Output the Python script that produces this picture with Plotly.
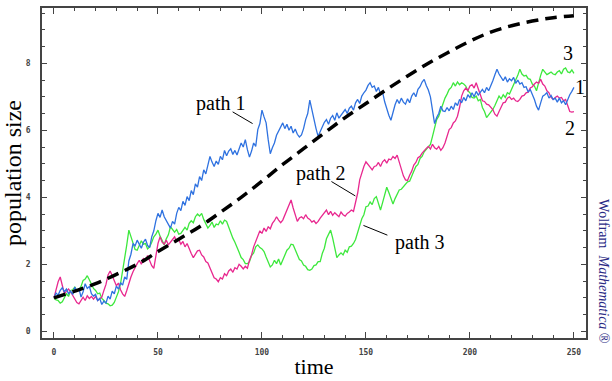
import plotly.graph_objects as go

# time grid for the simulated paths (one step per time unit)
time = list(range(0, 251))

path1 = [
    1.00, 1.14, 1.08, 1.22, 1.30, 1.18, 1.26, 1.12, 1.20, 1.10,
    1.32, 1.20, 1.28, 1.02, 1.18, 1.42, 1.28, 1.34, 1.12, 1.05,
    1.10, 0.92, 0.98, 0.80, 0.90, 0.84, 1.05, 0.96, 1.20, 1.12,
    1.35, 1.26, 1.45, 1.38, 1.62, 1.55, 2.10, 2.30, 2.62, 2.55,
    2.72, 2.58, 2.48, 2.66, 2.75, 2.56, 2.50, 2.82, 3.00, 3.30,
    3.52, 3.40, 3.62, 3.42, 3.30, 3.16, 3.08, 3.28, 3.20, 3.52,
    3.70, 3.60, 3.88, 3.76, 4.02, 3.90, 4.20, 4.08, 4.40, 4.30,
    4.62, 4.50, 4.82, 4.70, 4.98, 5.22, 5.05, 4.92, 5.08, 4.98,
    5.22, 5.12, 5.40, 5.24, 5.38, 5.45, 5.28, 5.40, 5.26, 5.48,
    5.62, 5.50, 5.72, 5.42, 5.20, 5.38, 5.62, 5.52, 6.02, 6.20,
    6.60, 6.40, 6.22, 5.72, 5.30, 5.48, 5.62, 5.85, 5.98, 6.14,
    6.22, 6.05, 6.18, 6.00, 6.12, 5.92, 6.04, 5.88, 5.80, 5.86,
    6.05, 6.32, 6.50, 6.90, 6.58, 6.32, 6.05, 5.82, 5.98, 6.12,
    6.24, 6.32, 6.18, 6.36, 6.44, 6.30, 6.52, 6.36, 6.45, 6.54,
    6.62, 6.50, 6.66, 6.72, 6.60, 6.82, 6.92, 6.80, 7.02, 7.12,
    7.20, 7.34, 7.42, 7.28, 7.32, 7.16, 7.28, 7.08, 7.14, 6.85,
    6.62, 6.45, 6.30, 6.58, 6.76, 6.92, 6.80, 6.96, 6.84, 6.78,
    6.94, 6.82, 7.02, 7.12, 7.00, 7.22, 7.30, 7.44, 7.52, 7.34,
    7.20, 7.00, 6.62, 6.20, 6.38, 6.50, 6.72, 6.58, 6.56, 6.68,
    6.58, 6.72, 6.62, 6.82, 6.74, 6.92, 6.82, 6.98, 6.88, 7.06,
    6.98, 7.12, 7.00, 7.16, 7.05, 7.14, 7.22, 7.12, 7.28, 7.18,
    7.32, 7.48, 7.66, 7.82, 7.68, 7.56, 7.48, 7.60, 7.44, 7.54,
    7.48, 7.58, 7.40, 7.50, 7.38, 7.42, 7.28, 7.30, 7.14, 7.22,
    7.08, 6.92, 6.72, 6.60, 6.82, 7.02, 7.06, 7.12, 6.96, 7.04,
    6.92, 6.96, 6.84, 6.96, 6.82, 6.88, 6.76, 6.92, 7.06, 7.16,
    7.28,
]

path2 = [
    1.00, 1.28, 1.48, 1.62, 1.36, 1.12, 1.20, 1.26, 1.18, 1.06,
    0.98, 0.86, 0.82, 0.94, 1.02, 0.92, 1.06, 0.98, 1.04, 0.96,
    1.04, 0.92, 0.98, 1.02, 1.22, 1.40, 1.68, 1.80, 1.66, 1.52,
    1.36, 1.44, 1.24, 1.12, 1.04, 1.22, 1.44, 1.62, 1.78, 1.92,
    2.02, 2.12, 2.00, 2.18, 2.10, 2.26, 2.08, 1.96, 1.88, 2.32,
    2.62, 2.82, 2.66, 2.60, 2.72, 2.58, 2.68, 2.74, 2.82, 2.68,
    2.74, 2.60, 2.68, 2.52, 2.62, 2.44, 2.32, 2.20, 2.32, 2.40,
    2.42, 2.28, 2.22, 2.08, 2.04, 1.88, 1.78, 1.60, 1.56, 1.48,
    1.60, 1.56, 1.72, 1.66, 1.80, 1.86, 1.76, 1.90, 1.86, 2.00,
    1.94, 1.86, 1.94, 1.88, 2.12, 2.28, 2.52, 2.68, 2.88, 3.00,
    2.92, 3.08, 2.98, 3.12, 3.06, 3.22, 3.30, 3.42, 3.32, 3.24,
    3.32, 3.46, 3.62, 3.76, 3.92, 3.68, 3.44, 3.28, 3.38, 3.42,
    3.36, 3.48, 3.38, 3.34, 3.26, 3.30, 3.22, 3.28, 3.38, 3.46,
    3.56, 3.62, 3.48, 3.58, 3.46, 3.54, 3.48, 3.42, 3.56, 3.48,
    3.44, 3.52, 3.56, 3.62, 3.58, 3.82, 4.12, 4.52, 4.76, 4.92,
    5.06, 4.96, 4.90, 4.82, 4.92, 4.94, 5.04, 4.92, 5.06, 5.12,
    5.02, 5.14, 5.12, 5.22, 5.16, 5.26, 5.04, 4.86, 4.64, 4.52,
    4.50, 4.66, 4.78, 4.96, 5.04, 5.18, 5.22, 5.32, 5.40, 5.46,
    5.52, 5.44, 5.58, 5.48, 5.44, 5.52, 5.40, 5.48, 5.62, 5.80,
    6.02, 6.08, 6.22, 6.28, 6.42, 6.68, 7.02, 7.18, 7.26, 7.18,
    7.32, 7.36, 7.26, 7.42, 7.24, 7.12, 6.88, 6.86, 6.78, 6.76,
    6.68, 6.62, 6.48, 6.42, 6.56, 6.70, 6.82, 6.84, 6.96, 7.00,
    6.92, 6.96, 6.88, 6.86, 6.92, 7.02, 7.04, 7.12, 7.14, 7.26,
    7.30, 7.38, 7.44, 7.40, 7.52, 7.38, 7.32, 7.18, 7.12, 6.98,
    6.92, 6.98, 7.02, 6.96, 6.98, 6.88, 6.92, 6.74, 6.56, 6.54,
    6.56,
]

path3 = [
    1.00, 0.94, 0.92, 0.84, 0.88, 0.98, 1.12, 1.04, 1.22, 1.24,
    1.32, 1.20, 1.24, 1.34, 1.52, 1.56, 1.66, 1.54, 1.42, 1.28,
    1.22, 1.12, 1.14, 0.98, 0.92, 0.84, 0.82, 0.76, 0.78, 0.86,
    1.02, 1.18, 1.42, 1.78, 2.22, 2.58, 3.02, 2.84, 2.62, 2.44,
    2.42, 2.56, 2.70, 2.60, 2.62, 2.46, 2.52, 2.66, 2.82, 2.90,
    3.02, 2.84, 2.72, 2.58, 2.76, 2.88, 3.12, 3.02, 2.96, 3.04,
    2.90, 2.92, 3.02, 3.10, 3.02, 3.22, 3.30, 3.24, 3.42, 3.50,
    3.44, 3.52, 3.34, 3.22, 3.08, 3.16, 3.26, 3.10, 3.20, 3.18,
    3.30, 3.20, 3.32, 3.28, 3.10, 2.96, 2.78, 2.66, 2.48, 2.36,
    2.20, 2.14, 2.02, 2.02, 2.08, 2.26, 2.34, 2.52, 2.58, 2.50,
    2.46, 2.38, 2.22, 2.04, 1.92, 1.98, 2.12, 2.02, 2.16, 1.98,
    2.12, 2.24, 2.42, 2.48, 2.60, 2.58, 2.44, 2.32, 2.14, 2.10,
    1.98, 1.94, 1.84, 1.82, 1.86, 1.96, 1.98, 2.08, 2.08, 2.32,
    2.48, 2.76, 2.88, 3.02, 2.78, 2.46, 2.20, 2.28, 2.34, 2.28,
    2.42, 2.36, 2.52, 2.54, 2.62, 2.74, 2.96, 3.18, 3.36, 3.48,
    3.72, 3.74, 3.86, 3.78, 3.96, 4.02, 3.78, 3.62, 3.84, 4.12,
    4.30, 4.14, 3.96, 3.80, 3.96, 4.08, 4.22, 4.24, 4.32, 4.38,
    4.46, 4.48, 4.66, 4.78, 4.92, 4.98, 5.16, 5.22, 5.36, 5.44,
    5.52, 5.58, 5.82, 6.04, 6.32, 6.42, 6.62, 6.78, 6.96, 7.08,
    7.22, 7.28, 7.42, 7.32, 7.44, 7.36, 7.42, 7.38, 7.32, 7.18,
    7.12, 6.98, 6.96, 7.02, 6.88, 6.92, 6.68, 6.56, 6.38, 6.46,
    6.54, 6.62, 6.74, 6.86, 7.02, 6.94, 7.06, 6.98, 7.12, 7.08,
    7.22, 7.34, 7.52, 7.64, 7.82, 7.68, 7.62, 7.64, 7.54, 7.52,
    7.38, 7.32, 7.18, 7.46, 7.64, 7.82, 7.72, 7.66, 7.70, 7.74,
    7.68, 7.66, 7.74, 7.78, 7.68, 7.82, 7.86, 7.74, 7.72, 7.80,
    7.70,
]

# deterministic (mean) growth curve, sampled every 10 time units
mean_time = list(range(0, 251, 10))
mean_size = [1.00, 1.20, 1.42, 1.70, 2.00, 2.38, 2.75, 3.12, 3.55, 4.00,
             4.48, 4.98, 5.45, 5.92, 6.38, 6.80, 7.22, 7.62, 8.00, 8.34,
             8.66, 8.93, 9.12, 9.26, 9.36, 9.42]

x_ticks = [0, 50, 100, 150, 200, 250]
y_ticks = [0, 2, 4, 6, 8]

SERIF = "Liberation Serif, Times New Roman, serif"
TICKFONT = dict(family="DejaVu Sans Mono, monospace", size=8, color="#444444")

fig = go.Figure()

fig.add_trace(go.Scatter(x=time, y=path3, mode="lines",
                         line=dict(color="#3de83d", width=1.3), name="path 3"))
fig.add_trace(go.Scatter(x=time, y=path2, mode="lines",
                         line=dict(color="#e8288f", width=1.3), name="path 2"))
fig.add_trace(go.Scatter(x=time, y=path1, mode="lines",
                         line=dict(color="#2f72e0", width=1.3), name="path 1"))
fig.add_trace(go.Scatter(x=mean_time, y=mean_size, mode="lines",
                         line=dict(color="black", width=3.5, dash="12px,7px",
                                   shape="spline"),
                         name="mean"))

axis_common = dict(
    showgrid=False, zeroline=False, showline=True, linecolor="#444444",
    linewidth=1.5, mirror="allticks", ticks="inside", tickcolor="#444444",
    tickwidth=1, tickfont=TICKFONT,
)

fig.update_xaxes(
    range=[-5.76, 255.8], tickmode="array", tickvals=x_ticks,
    ticktext=[f"<b>{v}</b>" for v in x_ticks], ticklen=6,
    minor=dict(dtick=10, ticks="inside", ticklen=3, tickcolor="#444444"),
    ticklabelstandoff=6,
    title=dict(text="time", font=dict(family=SERIF, size=22, color="black"),
               standoff=2),
    **axis_common,
)
fig.update_yaxes(
    range=[-0.2, 9.65], tickmode="array", tickvals=y_ticks,
    ticktext=[f"<b>{v}</b>" for v in y_ticks], ticklen=5,
    minor=dict(dtick=0.5, ticks="inside", ticklen=3, tickcolor="#444444"),
    ticklabelstandoff=8,
    title=dict(text="population size",
               font=dict(family=SERIF, size=24, color="black"), standoff=3),
    **axis_common,
)

label_font = dict(family=SERIF, size=20, color="black")
labels = [
    ("path 1", 80.1, 6.81),
    ("path 2", 128.1, 4.71),
    ("path 3", 175.6, 2.66),
    ("3", 247.1, 8.30),
    ("1", 252.9, 7.28),
    ("2", 248.1, 6.08),
]
for text, tx, ty in labels:
    fig.add_annotation(x=tx, y=ty, text=text, showarrow=False,
                       font=label_font, xanchor="center", yanchor="middle")

# leader lines from the labels to their paths
leaders = [
    (85.9, 6.55, 95.5, 6.20),
    (133.4, 4.47, 144.9, 4.04),
    (148.8, 3.16, 160.3, 2.87),
]
for x0, y0, x1, y1 in leaders:
    fig.add_shape(type="line", x0=x0, y0=y0, x1=x1, y1=y1,
                  line=dict(color="black", width=1))

fig.add_annotation(
    xref="paper", yref="paper", x=1.033, y=0.2,
    text="Wolfram  <i>Mathematica</i> ®", textangle=90, showarrow=False,
    font=dict(family=SERIF, size=14, color="#2b2b85"),
    xanchor="center", yanchor="middle",
)

fig.update_layout(
    width=612, height=381,
    margin=dict(l=41, r=26, t=6, b=38),
    paper_bgcolor="white", plot_bgcolor="white",
    showlegend=False,
)

fig.write_html("out.html")
